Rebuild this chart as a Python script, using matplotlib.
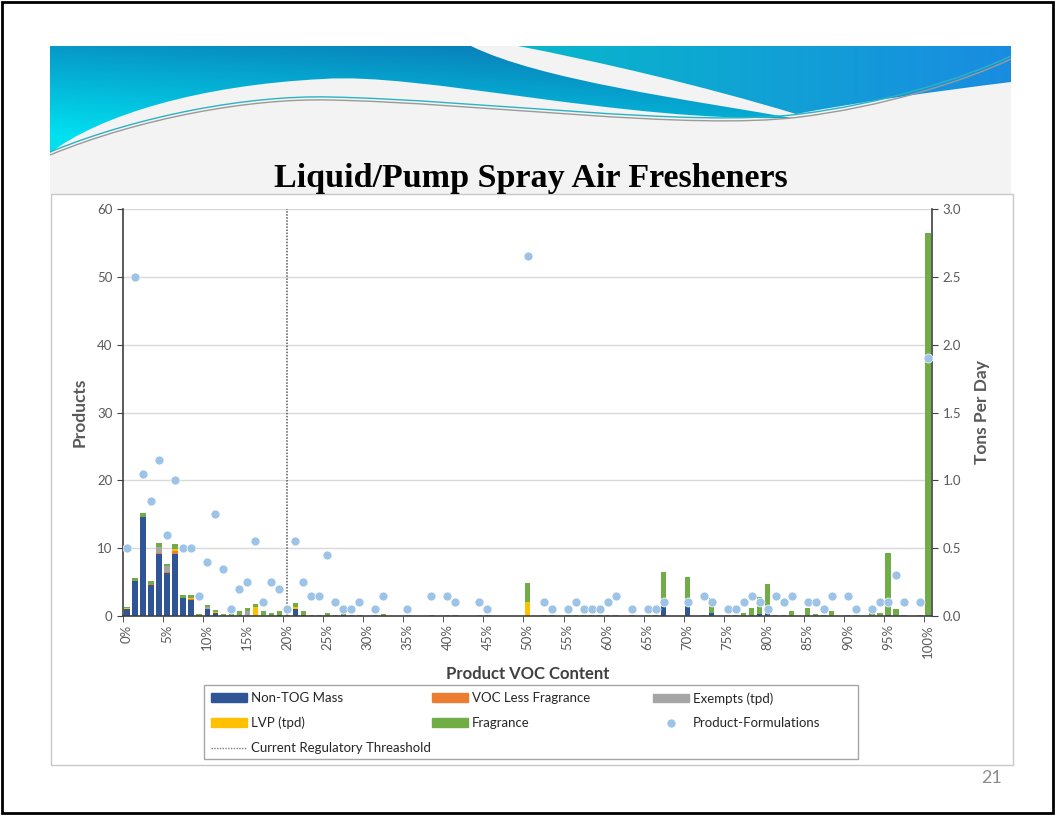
import numpy as np
import matplotlib
matplotlib.use("Agg")
import matplotlib.pyplot as plt
from matplotlib.patches import Rectangle, PathPatch, Patch
from matplotlib.path import Path
from matplotlib.lines import Line2D

plt.rcParams["font.family"] = ["Lato", "DejaVu Sans"]

# VOC content categories 0% .. 100%
pct = list(range(101))
tick_pct = list(range(0, 101, 5))
tick_labels = [f"{p}%" for p in tick_pct]

# stacked bar components (tons per day), keyed by VOC %
non_tog = {0: 0.05, 1: 0.26, 2: 0.73, 3: 0.23, 4: 0.455, 5: 0.32, 6: 0.46, 7: 0.13,
           8: 0.12, 10: 0.05, 11: 0.02, 19: 0.008, 21: 0.05, 22: 0.01, 27: 0.01,
           67: 0.074, 70: 0.074, 73: 0.025, 79: 0.015, 80: 0.025, 95: 0.006}
voc_less_frag = {3: 0.006, 4: 0.012, 5: 0.006, 6: 0.02, 8: 0.005, 10: 0.005,
                 14: 0.008, 20: 0.005, 63: 0.006, 75: 0.004}
exempts = {4: 0.044, 5: 0.04, 10: 0.008, 15: 0.04}
lvp = {0: 0.012, 6: 0.017, 8: 0.01, 11: 0.007, 16: 0.07, 17: 0.006, 21: 0.017, 50: 0.106}
fragrance = {0: 0.008, 1: 0.017, 2: 0.03, 3: 0.025, 4: 0.03, 5: 0.017, 6: 0.037, 7: 0.025,
             8: 0.017, 9: 0.015, 10: 0.02, 11: 0.02, 12: 0.012, 13: 0.012, 14: 0.027,
             15: 0.02, 16: 0.017, 17: 0.03, 18: 0.025, 19: 0.03, 21: 0.027, 22: 0.03,
             23: 0.008, 24: 0.008, 25: 0.025, 26: 0.008, 27: 0.01, 28: 0.008, 29: 0.008,
             31: 0.008, 32: 0.015, 35: 0.008, 38: 0.008, 40: 0.008, 41: 0.008, 44: 0.01,
             45: 0.008, 50: 0.135, 52: 0.008, 53: 0.008, 55: 0.008, 56: 0.008, 57: 0.008,
             58: 0.008, 59: 0.008, 60: 0.008, 61: 0.008, 65: 0.008, 66: 0.008, 67: 0.248,
             70: 0.216, 72: 0.008, 73: 0.105, 76: 0.008, 77: 0.02, 78: 0.057, 79: 0.123,
             80: 0.213, 81: 0.008, 82: 0.008, 83: 0.035, 85: 0.06, 86: 0.017, 87: 0.008,
             88: 0.04, 90: 0.008, 91: 0.008, 93: 0.022, 94: 0.025, 95: 0.455, 96: 0.055,
             97: 0.008, 99: 0.008, 100: 2.82}

# number of product formulations per VOC %
products = {0: 10, 1: 50, 2: 21, 3: 17, 4: 23, 5: 12, 6: 20, 7: 10, 8: 10, 9: 3, 10: 8,
            11: 15, 12: 7, 13: 1, 14: 4, 15: 5, 16: 11, 17: 2, 18: 5, 19: 4, 20: 1,
            21: 11, 22: 5, 23: 3, 24: 3, 25: 9, 26: 2, 27: 1, 28: 1, 29: 2, 31: 1, 32: 3,
            35: 1, 38: 3, 40: 3, 41: 2, 44: 2, 45: 1, 50: 53, 52: 2, 53: 1, 55: 1, 56: 2,
            57: 1, 58: 1, 59: 1, 60: 2, 61: 3, 63: 1, 65: 1, 66: 1, 67: 2, 70: 2, 72: 3,
            73: 2, 75: 1, 76: 1, 77: 2, 78: 3, 79: 2, 80: 1, 81: 3, 82: 2, 83: 3, 85: 2,
            86: 2, 87: 1, 88: 3, 90: 3, 91: 1, 93: 1, 94: 2, 95: 2, 96: 6, 97: 2, 99: 2,
            100: 38}

threshold = 20

series = [("Non-TOG Mass", non_tog, "#2F5597"),
          ("VOC Less Fragrance", voc_less_frag, "#ED7D31"),
          ("Exempts (tpd)", exempts, "#A5A5A5"),
          ("LVP (tpd)", lvp, "#FFC000"),
          ("Fragrance", fragrance, "#70AD47")]

fig = plt.figure(figsize=(10.55, 8.16), dpi=100)

# ---- slide background ----
bg = fig.add_axes([0, 0, 1, 1])
bg.axis("off")
bg.set_zorder(-5)

bg.add_patch(Rectangle((50, 46), 961, 148, fc="#f3f3f3", ec="none", zorder=1))

left_path = Path([(50, 46), (471, 46),
                  (540, 80), (690, 100), (792, 118),
                  (620, 122), (420, 72), (323, 79),
                  (200, 85), (100, 115), (50, 153),
                  (50, 46)],
                 [Path.MOVETO, Path.LINETO,
                  Path.CURVE4, Path.CURVE4, Path.CURVE4,
                  Path.CURVE4, Path.CURVE4, Path.CURVE4,
                  Path.CURVE4, Path.CURVE4, Path.CURVE4,
                  Path.CLOSEPOLY])
right_path = Path([(518, 46), (1011, 46), (1011, 82),
                   (930, 92), (860, 102), (796, 114),
                   (700, 85), (600, 62), (518, 46),
                   (518, 46)],
                  [Path.MOVETO, Path.LINETO, Path.LINETO,
                   Path.CURVE4, Path.CURVE4, Path.CURVE4,
                   Path.CURVE4, Path.CURVE4, Path.CURVE4,
                   Path.CLOSEPOLY])

gx, gy = np.meshgrid(np.linspace(50, 1011, 400), np.linspace(46, 160, 60))
t = np.clip(0.8 * (gy - 46) / 110 + 0.35 * (1 - (gx - 50) / 700), 0, 1)[..., None]
c_blue = np.array([0.04, 0.45, 0.70])
c_cyan = np.array([0.0, 0.88, 0.94])
img_left = c_blue * (1 - t) + c_cyan * t
t2 = np.clip((gx - 518) / 493, 0, 1)[..., None]
img_right = np.array([0.03, 0.72, 0.79]) * (1 - t2) + np.array([0.1, 0.55, 0.88]) * t2

for path, img in [(left_path, img_left), (right_path, img_right)]:
    pp = PathPatch(path, fc="none", ec="none", transform=bg.transData)
    bg.add_patch(pp)
    im = bg.imshow(img, extent=(50, 1011, 160, 46), aspect="auto",
                   interpolation="bilinear", zorder=2)
    im.set_clip_path(pp)

for dy, col in [(0, "#2bb3c4"), (3, "#9a9a9a")]:
    swoosh = Path([(50, 152 + dy), (140, 115 + dy), (250, 95 + dy), (330, 97 + dy),
                   (480, 100 + dy), (690, 128 + dy), (800, 114 + dy),
                   (880, 104 + dy), (960, 80 + dy), (1011, 56 + dy)],
                  [Path.MOVETO] + [Path.CURVE4] * 9)
    bg.add_patch(PathPatch(swoosh, fc="none", ec=col, lw=1.0, zorder=3))

bg.add_patch(Rectangle((51, 194), 962, 571, fc="white", ec="#c8c8c8", lw=1, zorder=3))
bg.add_patch(Rectangle((2, 2), 1051, 811, fc="none", ec="black", lw=2, zorder=3))
# legend frame
bg.add_patch(Rectangle((204, 685), 654, 74, fc="white", ec="#a6a6a6", lw=1, zorder=4))

bg.text(531, 178, "Liquid/Pump Spray Air Fresheners", ha="center", va="center",
        fontsize=24.5, fontweight="bold", family=["Liberation Serif", "DejaVu Serif"],
        zorder=5)
bg.text(992, 778, "21", ha="center", va="center", fontsize=13, color="#8c8c8c", zorder=5)

bg.set_xlim(0, 1055)
bg.set_ylim(816, 0)

# ---- chart ----
ax = fig.add_axes([123 / 1055, 1 - 616 / 816, 809 / 1055, 407 / 816])
ax2 = ax.twinx()
ax.set_zorder(2)
ax2.set_zorder(1)
ax.patch.set_visible(False)

bottom = np.zeros(len(pct))
for name, vals, color in series:
    h = np.array([vals.get(p, 0.0) for p in pct])
    ax2.bar(pct, h, bottom=bottom, width=0.65, color=color, label=name, zorder=2)
    bottom += h

ax2.axvline(threshold, color="#595959", lw=1.1, ls=(0, (1, 1)), zorder=3)

px = list(products.keys())
py = list(products.values())
ax.scatter(px, py, s=42, color="#9DC3E6", edgecolors="white", linewidths=0.5, zorder=4)

ax.set_xlim(-0.5, 100.5)
ax.set_ylim(0, 60)
ax2.set_ylim(0, 3.0)
ax.set_yticks(range(0, 61, 10))
ax2.set_yticks(np.arange(0, 3.01, 0.5))
ax2.set_yticklabels([f"{v:.1f}" for v in np.arange(0, 3.01, 0.5)])
ax2.yaxis.grid(True, color="#d9d9d9", lw=1)
ax2.set_axisbelow(True)

ax.set_xticks(tick_pct)
ax.set_xticklabels(tick_labels, rotation=90)
ax.set_xticks(np.arange(-0.5, 101, 5), minor=True)
ax.tick_params(axis="x", which="major", length=0, pad=6)
ax.tick_params(axis="x", which="minor", length=4, color="#404040", direction="out")

for a in (ax, ax2):
    a.tick_params(axis="y", length=4, color="#404040", labelsize=9.5, labelcolor="#595959")
    for s in a.spines.values():
        s.set_visible(False)
ax.tick_params(axis="x", labelsize=9.5, labelcolor="#595959")
ax.spines["left"].set_visible(True)
ax.spines["bottom"].set_visible(True)
ax2.spines["right"].set_visible(True)
for s in (ax.spines["left"], ax.spines["bottom"], ax2.spines["right"]):
    s.set_color("#404040")
    s.set_linewidth(1.2)

ax.set_ylabel("Products", fontsize=12.5, fontweight="bold", color="#595959", labelpad=7)
ax2.set_ylabel("Tons Per Day", fontsize=12.5, fontweight="bold", color="#595959",
               labelpad=9, rotation=90)
ax.set_xlabel("Product VOC Content", fontsize=12, fontweight="bold", color="#404040",
              labelpad=6)

# legend: three columns placed like the Excel legend
colors = {name: c for name, _, c in series}
columns = [
    (211, [Patch(color=colors["Non-TOG Mass"]), Patch(color=colors["LVP (tpd)"]),
           Line2D([], [], color="#7f7f7f", ls=(0, (1, 1)), lw=1)],
     ["Non-TOG Mass", "LVP (tpd)", "Current Regulatory Threashold"]),
    (432, [Patch(color=colors["VOC Less Fragrance"]), Patch(color=colors["Fragrance"])],
     ["VOC Less Fragrance", "Fragrance"]),
    (653, [Patch(color=colors["Exempts (tpd)"]),
           Line2D([], [], marker="o", ls="none", ms=5, color="#9DC3E6")],
     ["Exempts (tpd)", "Product-Formulations"]),
]
for x0, hs, ls_ in columns:
    leg = fig.legend(hs, ls_, loc="upper left", bbox_to_anchor=(x0 / 1055, 1 - 692 / 816),
                     fontsize=9.5, frameon=False, handlelength=2.75, handleheight=0.65,
                     handletextpad=0.3, labelspacing=0.97, borderaxespad=0, borderpad=0)
    for txt in leg.get_texts():
        txt.set_color("#262626")

fig.savefig("out.png", dpi=100)
